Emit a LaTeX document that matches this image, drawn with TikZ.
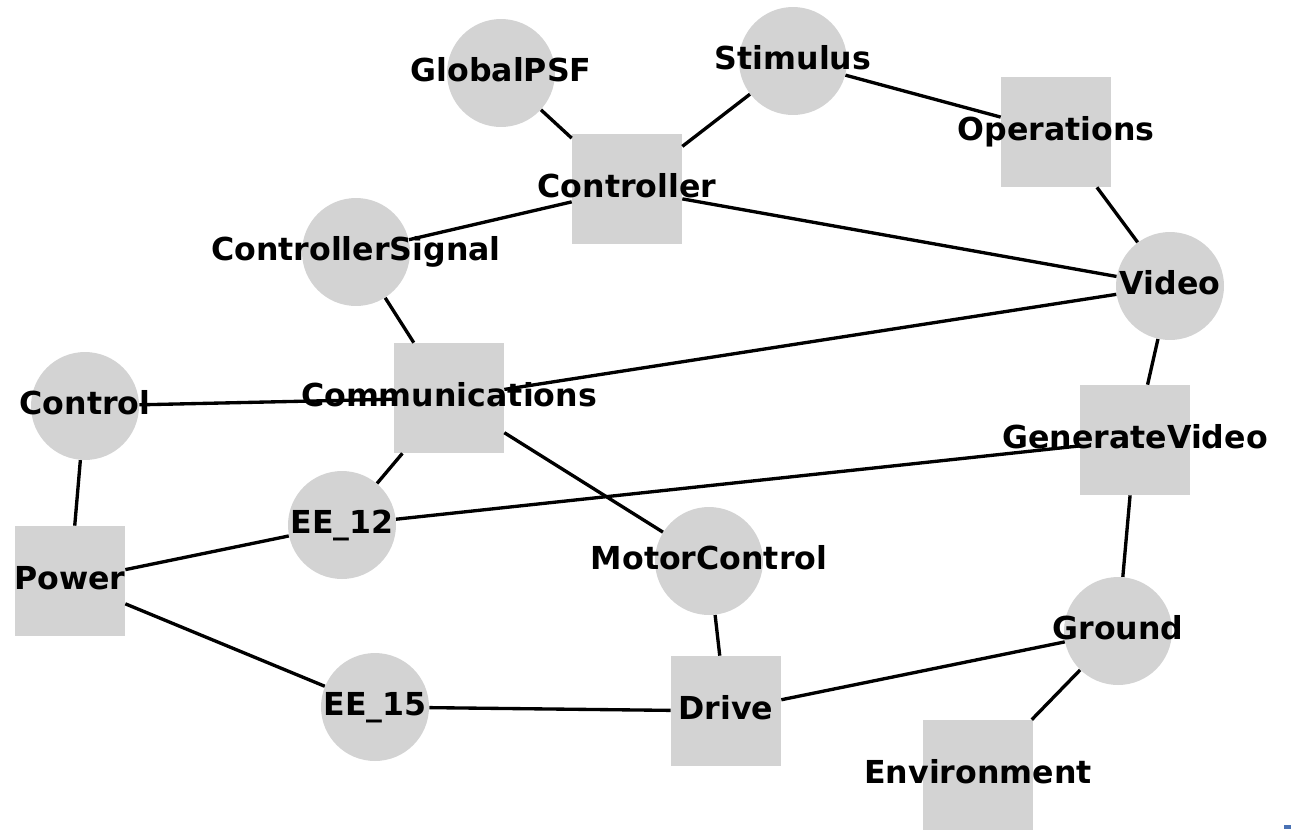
\documentclass[tikz,border=0pt]{standalone}
\usepackage{fontspec}
\setmainfont{DejaVu Sans}
\usetikzlibrary{positioning}
\definecolor{nodegray}{RGB}{211,211,211}
\definecolor{markblue}{RGB}{74,114,180}
\tikzset{
  sqnode/.style={rectangle,fill=nodegray,minimum size=2.2cm,inner sep=0pt},
  circnode/.style={circle,fill=nodegray,minimum size=2.16cm,inner sep=0pt},
  lbl/.style={font=\bfseries\fontsize{18}{20}\selectfont,inner sep=0pt,text height=0.73em,text depth=0.24em,yshift=-0.08cm},
  link/.style={line width=1.9pt,black}
}

\begin{document}
\begin{tikzpicture}[x=0.02cm,y=-0.02cm]
    \useasboundingbox (0,0) rectangle (1291,829);
    \clip (0,0) rectangle (1291,829);
    % nodes
    \node[circnode] (GlobalPSF) at (501,73) {};
    \node[circnode] (Stimulus) at (793,61) {};
    \node[sqnode] (Controller) at (627,189) {};
    \node[sqnode] (Operations) at (1056,132) {};
    \node[circnode] (ControllerSignal) at (356,252) {};
    \node[circnode] (Video) at (1170,286) {};
    \node[sqnode] (Communications) at (449,398) {};
    \node[circnode] (Control) at (85,406) {};
    \node[sqnode] (GenerateVideo) at (1135,440) {};
    \node[circnode] (EE12) at (342,525) {};
    \node[circnode] (MotorControl) at (709,561) {};
    \node[sqnode] (Power) at (70,581) {};
    \node[circnode] (Ground) at (1118,631) {};
    \node[circnode] (EE15) at (375,707) {};
    \node[sqnode] (Drive) at (726,711) {};
    \node[sqnode] (Environment) at (978,775) {};
    % edges
    \foreach \a/\b in {GlobalPSF/Controller, Stimulus/Controller, Stimulus/Operations,
        Operations/Video, Controller/ControllerSignal, Controller/Video,
        ControllerSignal/Communications, Communications/Video, Communications/Control,
        Communications/EE12, Communications/MotorControl, Video/GenerateVideo,
        GenerateVideo/EE12, GenerateVideo/Ground, Control/Power, Power/EE12,
        Power/EE15, EE15/Drive, MotorControl/Drive, Drive/Ground, Ground/Environment}
        \draw[link] (\a) -- (\b);
    % labels
    \node[lbl] (tGlobalPSF) at (GlobalPSF.center) {GlobalPSF};
    \node[lbl] (tStimulus) at (Stimulus.center) {Stimulus};
    \node[lbl] (tController) at (Controller.center) {Controller};
    \node[lbl] (tOperations) at (Operations.center) {Operations};
    \node[lbl] (tControllerSignal) at (ControllerSignal.center) {ControllerSignal};
    \node[lbl] (tVideo) at (Video.center) {Video};
    \node[lbl] (tCommunications) at (Communications.center) {Communications};
    \node[lbl] (tControl) at (Control.center) {Control};
    \node[lbl] (tGenerateVideo) at (GenerateVideo.center) {GenerateVideo};
    \node[lbl] (tEE12) at (EE12.center) {EE\_12};
    \node[lbl] (tMotorControl) at (MotorControl.center) {MotorControl};
    \node[lbl] (tPower) at (Power.center) {Power};
    \node[lbl] (tGround) at (Ground.center) {Ground};
    \node[lbl] (tEE15) at (EE15.center) {EE\_15};
    \node[lbl] (tDrive) at (Drive.center) {Drive};
    \node[lbl] (tEnvironment) at (Environment.center) {Environment};
    \fill[markblue] (1284,825) rectangle (1291,829);
\end{tikzpicture}
\end{document}
